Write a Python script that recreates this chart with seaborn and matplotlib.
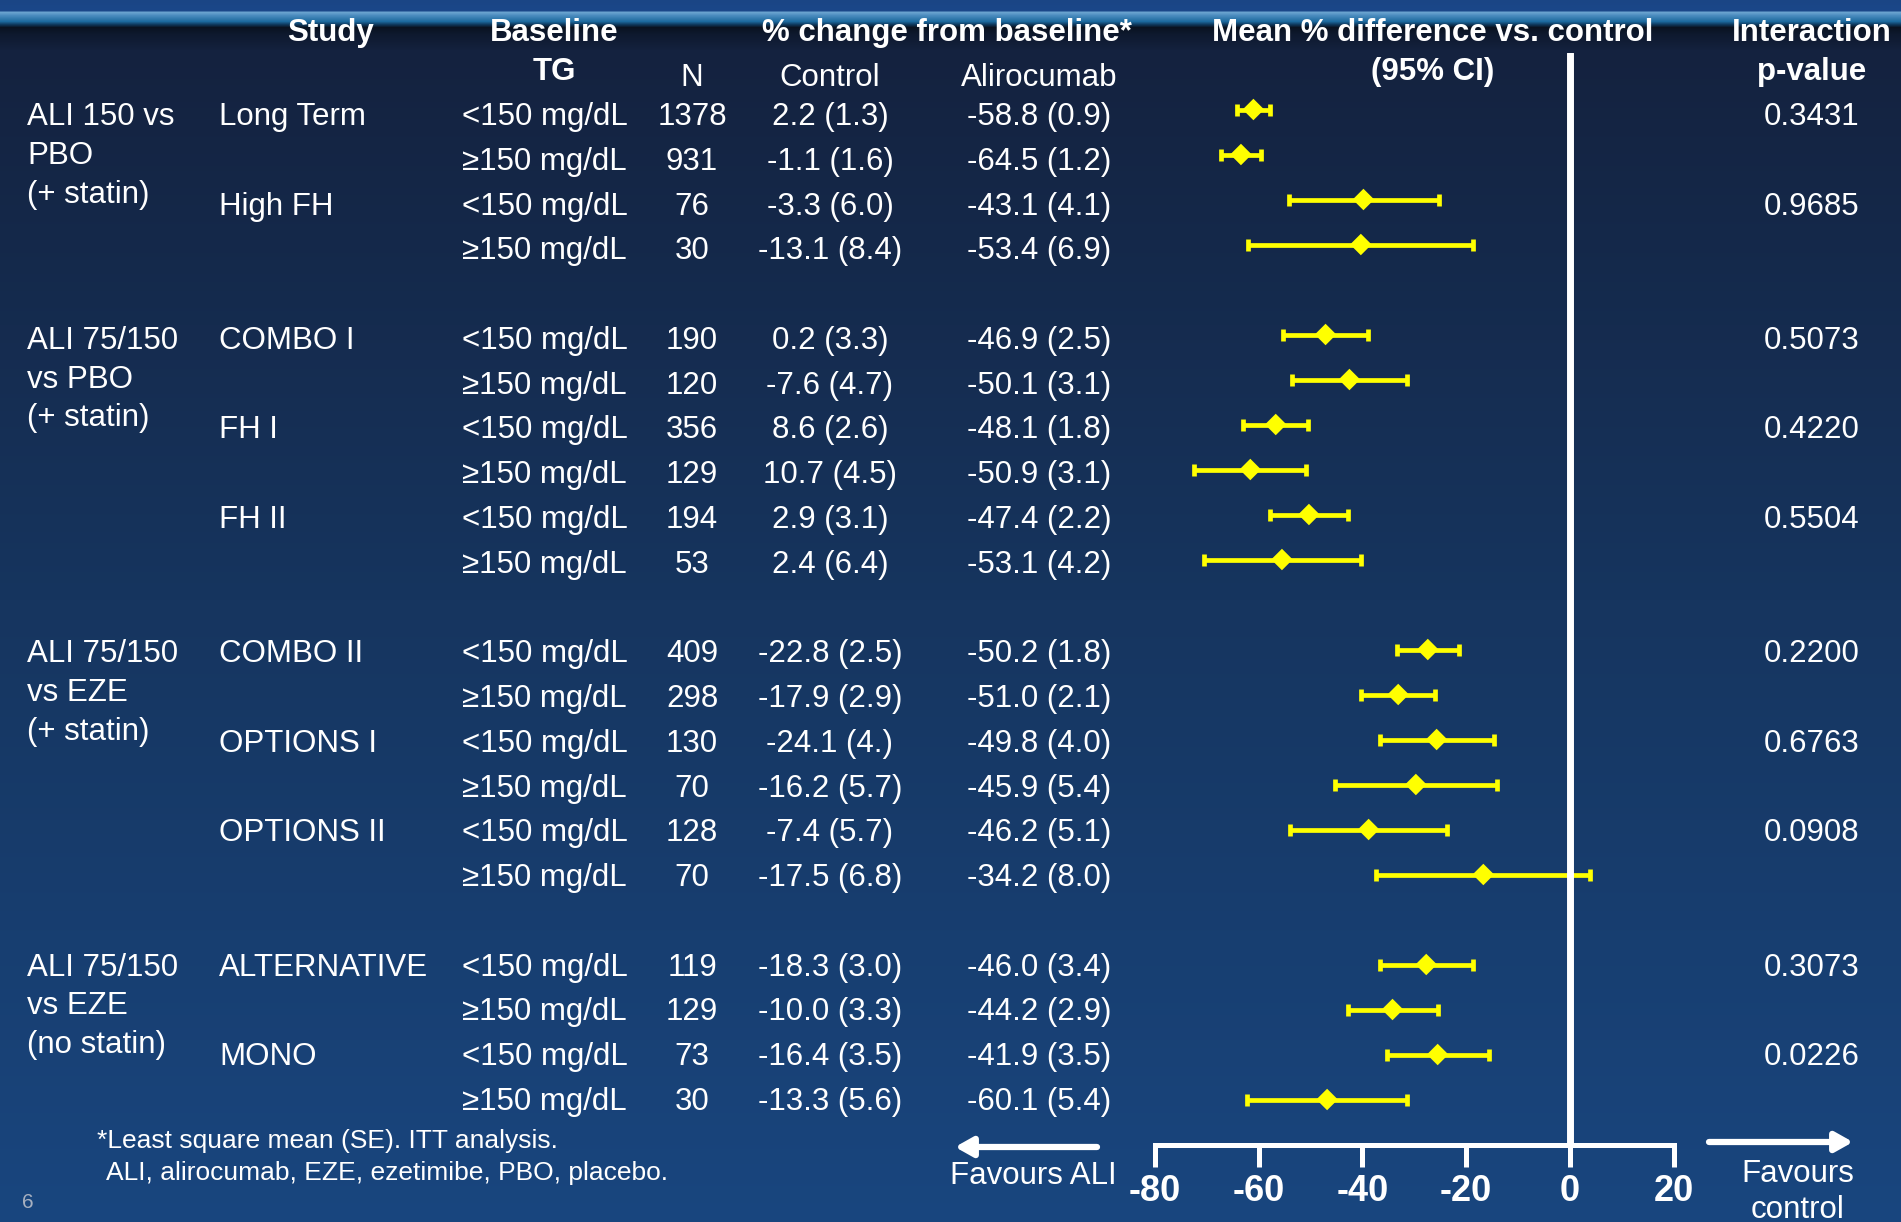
import numpy as np
import pandas as pd
import matplotlib
matplotlib.use("Agg")
import matplotlib.pyplot as plt
from matplotlib.colors import to_rgb
import seaborn as sns

# ---- data ----
group_labels = [["ALI 150 vs", "PBO", "(+ statin)"],
                ["ALI 75/150", "vs PBO", "(+ statin)"],
                ["ALI 75/150", "vs EZE", "(+ statin)"],
                ["ALI 75/150", "vs EZE", "(no statin)"]]
studies = [["Long Term", "High FH"],
           ["COMBO I", "FH I", "FH II"],
           ["COMBO II", "OPTIONS I", "OPTIONS II"],
           ["ALTERNATIVE", "MONO"]]
p_values = ["0.3431", "0.9685", "0.5073", "0.4220", "0.5504",
            "0.2200", "0.6763", "0.0908", "0.3073", "0.0226"]
tg_levels = ["<150 mg/dL", "\u2265150 mg/dL"]
n_patients = [1378, 931, 76, 30, 190, 120, 356, 129, 194, 53,
              409, 298, 130, 70, 128, 70, 119, 129, 73, 30]
control_change = ["2.2 (1.3)", "-1.1 (1.6)", "-3.3 (6.0)", "-13.1 (8.4)",
                  "0.2 (3.3)", "-7.6 (4.7)", "8.6 (2.6)", "10.7 (4.5)", "2.9 (3.1)", "2.4 (6.4)",
                  "-22.8 (2.5)", "-17.9 (2.9)", "-24.1 (4.)", "-16.2 (5.7)", "-7.4 (5.7)", "-17.5 (6.8)",
                  "-18.3 (3.0)", "-10.0 (3.3)", "-16.4 (3.5)", "-13.3 (5.6)"]
ali_change = ["-58.8 (0.9)", "-64.5 (1.2)", "-43.1 (4.1)", "-53.4 (6.9)",
              "-46.9 (2.5)", "-50.1 (3.1)", "-48.1 (1.8)", "-50.9 (3.1)", "-47.4 (2.2)", "-53.1 (4.2)",
              "-50.2 (1.8)", "-51.0 (2.1)", "-49.8 (4.0)", "-45.9 (5.4)", "-46.2 (5.1)", "-34.2 (8.0)",
              "-46.0 (3.4)", "-44.2 (2.9)", "-41.9 (3.5)", "-60.1 (5.4)"]
mean_diff = [-61.0, -63.4, -39.8, -40.3, -47.1, -42.5, -56.7, -61.6, -50.3, -55.5,
             -27.4, -33.1, -25.7, -29.7, -38.8, -16.7, -27.7, -34.2, -25.5, -46.8]
ci_low = [-64.2, -67.2, -54.2, -62.0, -55.3, -53.5, -63.0, -72.4, -57.8, -70.6,
          -33.3, -40.2, -36.7, -45.3, -53.9, -37.4, -36.6, -42.8, -35.2, -62.2]
ci_high = [-57.8, -59.5, -25.3, -18.6, -39.0, -31.5, -50.4, -50.9, -42.8, -40.3,
           -21.4, -26.1, -14.6, -14.1, -23.7, 3.9, -18.7, -25.5, -15.6, -31.4]
x_ticks = [-80, -60, -40, -20, 0, 20]

# ---- layout (pixels of the 1901x1222 canvas) ----
W, H = 1901, 1222
ROW0, ROW_STEP = 109.5, 45          # marker rows
TXT0, TXT_STEP = 117, 44.77         # table text rows
ZERO_PX, PX_PER_UNIT = 1570, 5.19
AX_L, AX_R, AX_T, AX_B = 1140, 1700, 53, 1144.5
FS = 22.5
YELLOW = "#ffff00"

sns.set_theme(style="white")
plt.rcParams["font.family"] = ["Liberation Sans", "DejaVu Sans"]
plt.rcParams["axes.unicode_minus"] = False

# row slots: two TG rows per study, one empty slot between groups
slots, study_slots, group_slots = [], [], []
s = 0
for g, st in enumerate(studies):
    group_slots.append(s)
    for name in st:
        study_slots.append(s)
        slots += [s, s + 1]
        s += 2
    s += 1

df = pd.DataFrame({"slot": slots, "diff": mean_diff, "lo": ci_low, "hi": ci_high})


def text_y(slot):
    return TXT0 + TXT_STEP * slot


fig = plt.figure(figsize=(W / 100, H / 100), dpi=100)

# background gradient
bg = fig.add_axes([0, 0, 1, 1])
stops = [(0, "#1a4585"), (10, "#1b4789"), (12, "#6aa3cf"), (15, "#4b8cbf"), (21, "#1d6a9e"),
         (24, "#0f3a5e"), (27, "#0a1220"), (34, "#0e192e"), (50, "#14223f"),
         (600, "#16355f"), (1222, "#19467f")]
ys = np.arange(H)
cols = np.array([to_rgb(c) for _, c in stops])
grad = np.stack([np.interp(ys, [p for p, _ in stops], cols[:, k]) for k in range(3)], axis=-1)
img = np.repeat(grad[:, None, :], 2, axis=1)
bg.imshow(img, extent=(0, W, H, 0), aspect="auto", interpolation="bilinear")
bg.set_xlim(0, W)
bg.set_ylim(H, 0)
bg.axis("off")

txt = dict(color="white", fontsize=FS)

# headers
bold = dict(color="white", fontsize=FS, fontweight="bold", ha="center", va="center")
bg.text(331, 33, "Study", **bold)
bg.text(554, 33, "Baseline", **bold)
bg.text(554, 72, "TG", **bold)
bg.text(947, 33, "% change from baseline*", **bold)
bg.text(1433, 33, "Mean % difference vs. control", **bold)
bg.text(1433, 72, "(95% CI)", **bold)
bg.text(1812, 33, "Interaction", **bold)
bg.text(1812, 72, "p-value", **bold)
bg.text(692, 78, "N", ha="center", va="center", **txt)
bg.text(830, 78, "Control", ha="center", va="center", **txt)
bg.text(1039, 78, "Alirocumab", ha="center", va="center", **txt)

# group labels
for g, lines in enumerate(group_labels):
    for i, line in enumerate(lines):
        bg.text(27, text_y(group_slots[g]) + i * 38.8, line, ha="left", va="center", **txt)

# study names and p-values
for k, name in enumerate([n for st in studies for n in st]):
    y = text_y(study_slots[k])
    bg.text(219, y, name, ha="left", va="center", **txt)
    bg.text(1812, y, p_values[k], ha="center", va="center", **txt)

# table rows
for i, sl in enumerate(slots):
    y = text_y(sl)
    bg.text(462, y, tg_levels[i % 2], ha="left", va="center", **txt)
    bg.text(692, y, str(n_patients[i]), ha="center", va="center", **txt)
    bg.text(830, y, control_change[i], ha="center", va="center", **txt)
    bg.text(1039, y, ali_change[i], ha="center", va="center", **txt)

# footnotes
bg.text(97, 1141, "*Least square mean (SE). ITT analysis.", ha="left", va="center", color="white", fontsize=19)
bg.text(106, 1173, "ALI, alirocumab, EZE, ezetimibe, PBO, placebo.", ha="left", va="center",
        color="white", fontsize=19)
bg.text(22, 1202, "6", ha="left", va="center", color="#a7b0c0", fontsize=15)

# favours arrows
arrow = dict(arrowstyle="-|>,head_length=0.8,head_width=0.45", color="white", lw=4.5,
             shrinkA=0, shrinkB=0, mutation_scale=13)
bg.annotate("", xy=(955, 1147), xytext=(1097, 1147), arrowprops=arrow)
bg.annotate("", xy=(1853, 1142), xytext=(1709, 1142), arrowprops=arrow)
bg.text(1033, 1176, "Favours ALI", ha="center", va="center", **txt)
bg.text(1798, 1174, "Favours", ha="center", va="center", **txt)
bg.text(1798, 1210, "control", ha="center", va="center", **txt)

# forest plot
ax = fig.add_axes([AX_L / W, 1 - AX_B / H, (AX_R - AX_L) / W, (AX_B - AX_T) / H])
ax.patch.set_alpha(0)
ax.errorbar(df["diff"], df["slot"], xerr=[df["diff"] - df["lo"], df["hi"] - df["diff"]],
            fmt="none", ecolor=YELLOW, elinewidth=3.4, capsize=4.3, capthick=3.4, zorder=3)
sns.scatterplot(data=df, x="diff", y="slot", marker="D", s=120, color=YELLOW,
                edgecolor="none", legend=False, ax=ax, zorder=4)
ax.axvline(0, color="white", lw=5, zorder=5)
ax.set_xlim((AX_L - ZERO_PX) / PX_PER_UNIT, (AX_R - ZERO_PX) / PX_PER_UNIT)
ax.set_ylim((AX_B - ROW0) / ROW_STEP, (AX_T - ROW0) / ROW_STEP)
ax.set_xlabel("")
ax.set_ylabel("")
ax.set_yticks([])
ax.set_xticks(x_ticks)
ax.set_xticklabels([str(t) for t in x_ticks], fontweight="bold")
ax.tick_params(axis="x", colors="white", length=16, width=3.6, direction="out",
               labelsize=26, pad=5, bottom=True)
for side in ["top", "left", "right"]:
    ax.spines[side].set_visible(False)
ax.spines["bottom"].set_visible(True)
ax.spines["bottom"].set_color("white")
ax.spines["bottom"].set_linewidth(3.6)
ax.spines["bottom"].set_bounds(-80, 20)

fig.savefig("out.png", dpi=100)
